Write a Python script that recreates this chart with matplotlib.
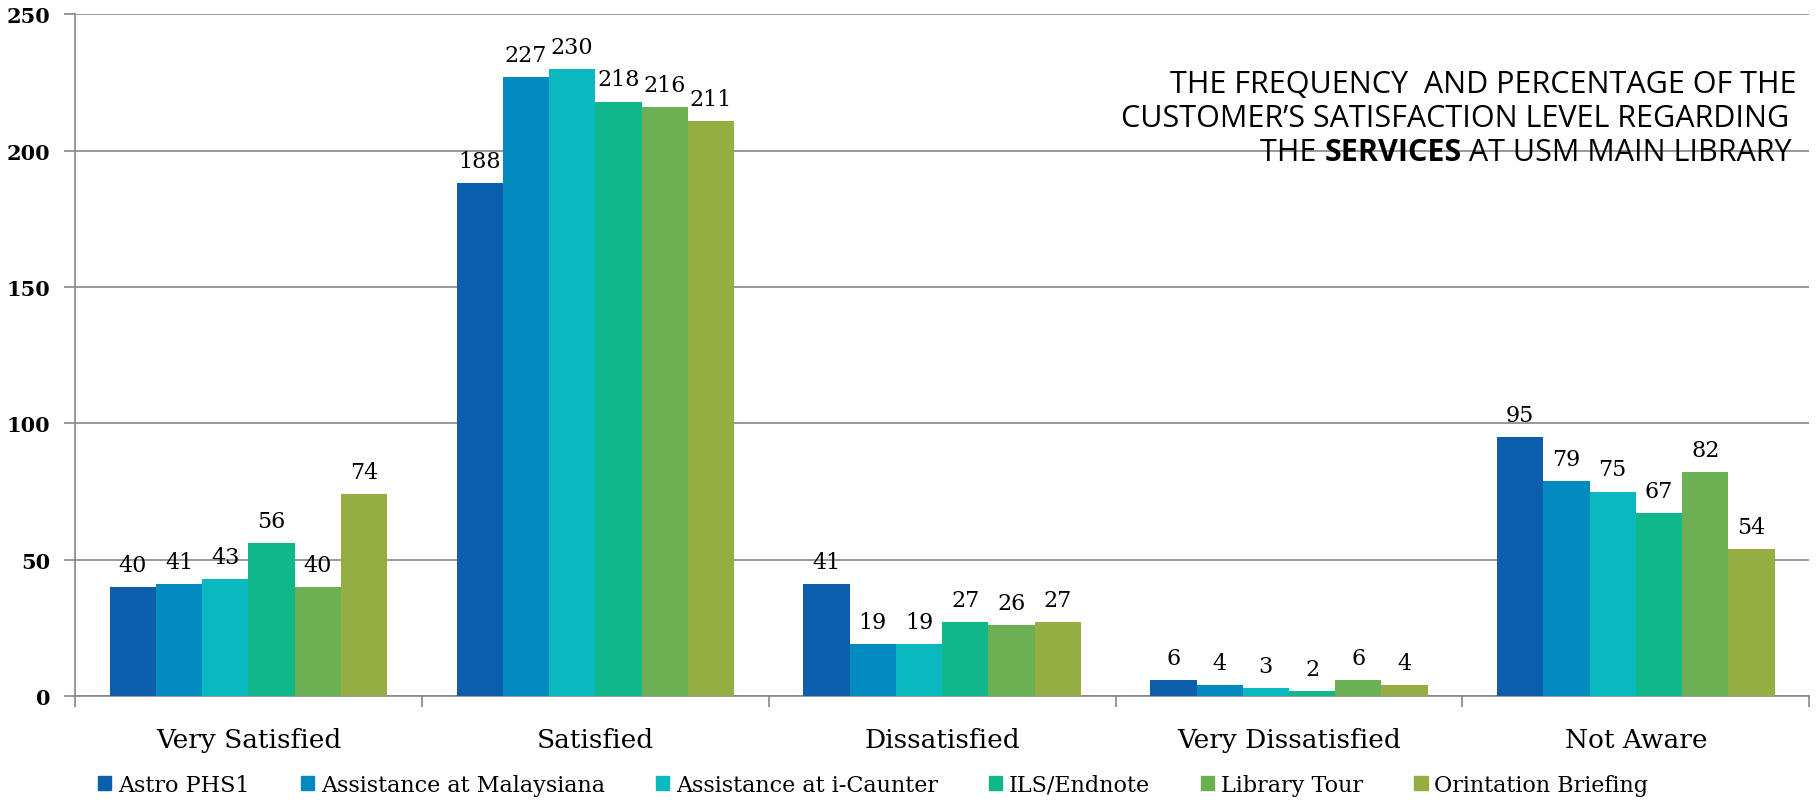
import numpy as np
import matplotlib.pyplot as plt
from matplotlib.patches import Patch

categories = ['Very Satisfied', 'Satisfied', 'Dissatisfied', 'Very Dissatisfied', 'Not Aware']
services = ['Astro PHS1', 'Assistance at Malaysiana', 'Assistance at i-Caunter',
            'ILS/Endnote', 'Library Tour', 'Orintation Briefing']
astro = [40, 188, 41, 6, 95]
malaysiana = [41, 227, 19, 4, 79]
icaunter = [43, 230, 19, 3, 75]
ils = [56, 218, 27, 2, 67]
tour = [40, 216, 26, 6, 82]
briefing = [74, 211, 27, 4, 54]
series = [astro, malaysiana, icaunter, ils, tour, briefing]
colors = ['#0B5FAD', '#038BC0', '#0AB8C0', '#0FB78A', '#6DB053', '#94AE42']

serif = ['DejaVu Serif']

fig = plt.figure(figsize=(18.16, 8.04), dpi=100)
ax = fig.add_axes([0.0413, 0.133, 0.955, 0.848])

x = np.arange(len(categories))
bw = 0.8 / 6
for i, vals in enumerate(series):
    pos = x - 0.4 + bw * (i + 0.5)
    bars = ax.bar(pos, vals, width=bw, color=colors[i], zorder=3, label=services[i])
    for b, v in zip(bars, vals):
        ax.annotate(str(v), (b.get_x() + b.get_width() / 2, v), xytext=(0, 8),
                    textcoords='offset points', ha='center', va='bottom',
                    fontsize=16, family=serif, zorder=4)

ax.set_xlim(-0.5, len(categories) - 0.5)
ax.set_ylim(0, 250)
ax.set_yticks(range(0, 251, 50))
ax.yaxis.grid(True, color='#868686', linewidth=1.2, zorder=0)
ax.set_xticks(x)
ax.set_xticklabels(categories, fontsize=19, family=serif)
ax.tick_params(axis='x', length=0, pad=22)
ax.set_xticks(np.arange(-0.5, len(categories) + 0.5, 1), minor=True)
ax.tick_params(axis='x', which='minor', length=8, color='#868686', width=1.2)
ax.tick_params(axis='y', length=8, color='#868686', width=1.2, labelsize=15, pad=10)
for lab in ax.get_yticklabels():
    lab.set_family(serif)
    lab.set_fontweight('bold')
for s in ['top', 'right']:
    ax.spines[s].set_visible(False)
for s in ['left', 'bottom']:
    ax.spines[s].set_color('#868686')
    ax.spines[s].set_linewidth(1.2)

handles = [Patch(color=c) for c in colors]
fig.legend(handles, services, loc='lower left', bbox_to_anchor=(0.043, -0.016), ncol=6,
           frameon=False, prop={'family': serif, 'size': 16}, handlelength=0.6,
           handleheight=0.6, handletextpad=0.3, columnspacing=2.3)

# title block
tfont = dict(family=['Open Sans', 'DejaVu Sans'], fontsize=22, va='center')
fig.text(1010 * 1.158 / 1816, 1 - 85 / 804, 'THE FREQUENCY  AND PERCENTAGE OF THE', **tfont)
fig.text(968 * 1.158 / 1816, 1 - 119 / 804, 'CUSTOMER\u2019S SATISFACTION LEVEL REGARDING', **tfont)
fig.canvas.draw()
r = fig.canvas.get_renderer()
t1 = fig.text(1088 * 1.158 / 1816, 1 - 153 / 804, 'THE ', **tfont)
x0 = t1.get_window_extent(r).x1 / fig.bbox.width
t2 = fig.text(x0, 1 - 153 / 804, 'SERVICES', fontweight='bold', **tfont)
x1 = t2.get_window_extent(r).x1 / fig.bbox.width
fig.text(x1, 1 - 153 / 804, ' AT USM MAIN LIBRARY', **tfont)

fig.savefig('out.png', dpi=100)
